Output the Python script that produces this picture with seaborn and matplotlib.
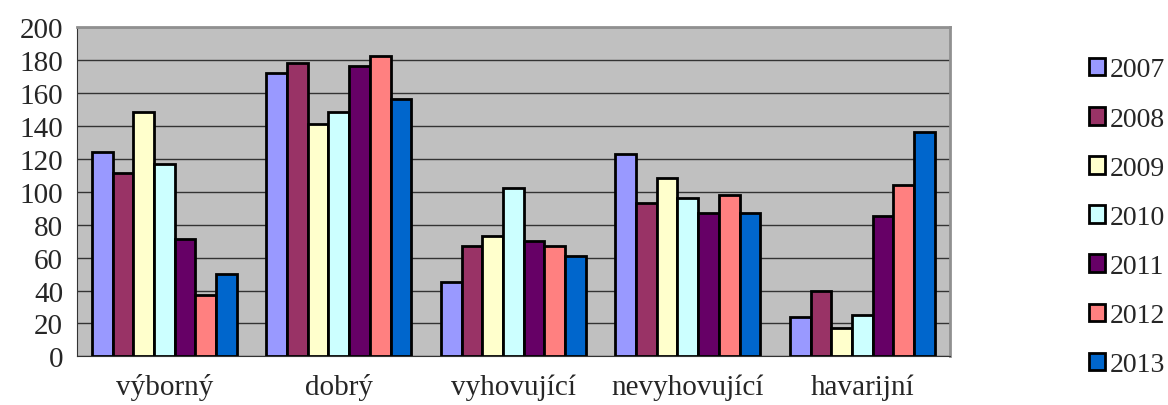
import pandas as pd
import seaborn as sns
import matplotlib.pyplot as plt
from matplotlib.patches import Patch

categories = ['výborný', 'dobrý', 'vyhovující', 'nevyhovující', 'havarijní']
years = ['2007', '2008', '2009', '2010', '2011', '2012', '2013']
colors = ['#9999FF', '#993366', '#FFFFCC', '#CCFFFF', '#660066', '#FF8080', '#0066CC']

v2007 = [124, 172, 45, 123, 24]
v2008 = [111, 178, 67, 93, 40]
v2009 = [148, 141, 73, 108, 17]
v2010 = [117, 148, 102, 96, 25]
v2011 = [71, 176, 70, 87, 85]
v2012 = [37, 182, 67, 98, 104]
v2013 = [50, 156, 61, 87, 136]

def build_frame():
    series = [v2007, v2008, v2009, v2010, v2011, v2012, v2013]
    rows = []
    for year, vals in zip(years, series):
        for cat, v in zip(categories, vals):
            rows.append({'kategorie': cat, 'rok': year, 'pocet': v})
    return pd.DataFrame(rows)

def main():
    df = build_frame()
    sns.set_style('white')
    plt.rcParams['font.family'] = ['Liberation Serif', 'DejaVu Serif']

    fig = plt.figure(figsize=(11.68, 4.06), dpi=100)
    ax = fig.add_axes([0.066, 0.1195, 0.747, 0.8125])
    ax.set_facecolor('#C0C0C0')

    sns.barplot(data=df, x='kategorie', y='pocet', hue='rok', order=categories,
                hue_order=years, palette=colors, width=0.83, edgecolor='black',
                linewidth=2, ax=ax, legend=False, errorbar=None, saturation=1)

    ax.set_ylim(0, 200)
    ax.set_xlim(-0.5, 4.5)
    ax.set_yticks(range(0, 201, 20))
    ax.yaxis.grid(True, color='#333333', linewidth=1)
    ax.set_axisbelow(True)
    ax.set_xlabel('')
    ax.set_ylabel('')

    # category boundaries as tick marks
    ax.set_xticks([i - 0.5 for i in range(6)], minor=True)
    ax.tick_params(axis='x', which='minor', length=7, width=1, color='#808080', direction='out')
    ax.tick_params(axis='x', which='major', length=0, pad=12, labelsize=21)
    ax.tick_params(axis='y', length=7, width=1, color='#333333', direction='out', pad=3, labelsize=21)

    for side in ['top', 'right']:
        ax.spines[side].set_color('#909090')
        ax.spines[side].set_linewidth(2)
    ax.spines['left'].set_color('#333333')
    ax.spines['bottom'].set_color('#333333')

    handles = [Patch(facecolor=c, edgecolor='black', linewidth=2, label=y)
               for c, y in zip(colors, years)]
    fig.legend(handles=handles, loc='center left', bbox_to_anchor=(0.932, 0.462),
               frameon=False, fontsize=20, handlelength=0.6, handleheight=0.6,
               handletextpad=0.15, labelspacing=0.87, borderaxespad=0, borderpad=0)

    fig.savefig('out.png', dpi=100)

if __name__ == "__main__":
    main()
